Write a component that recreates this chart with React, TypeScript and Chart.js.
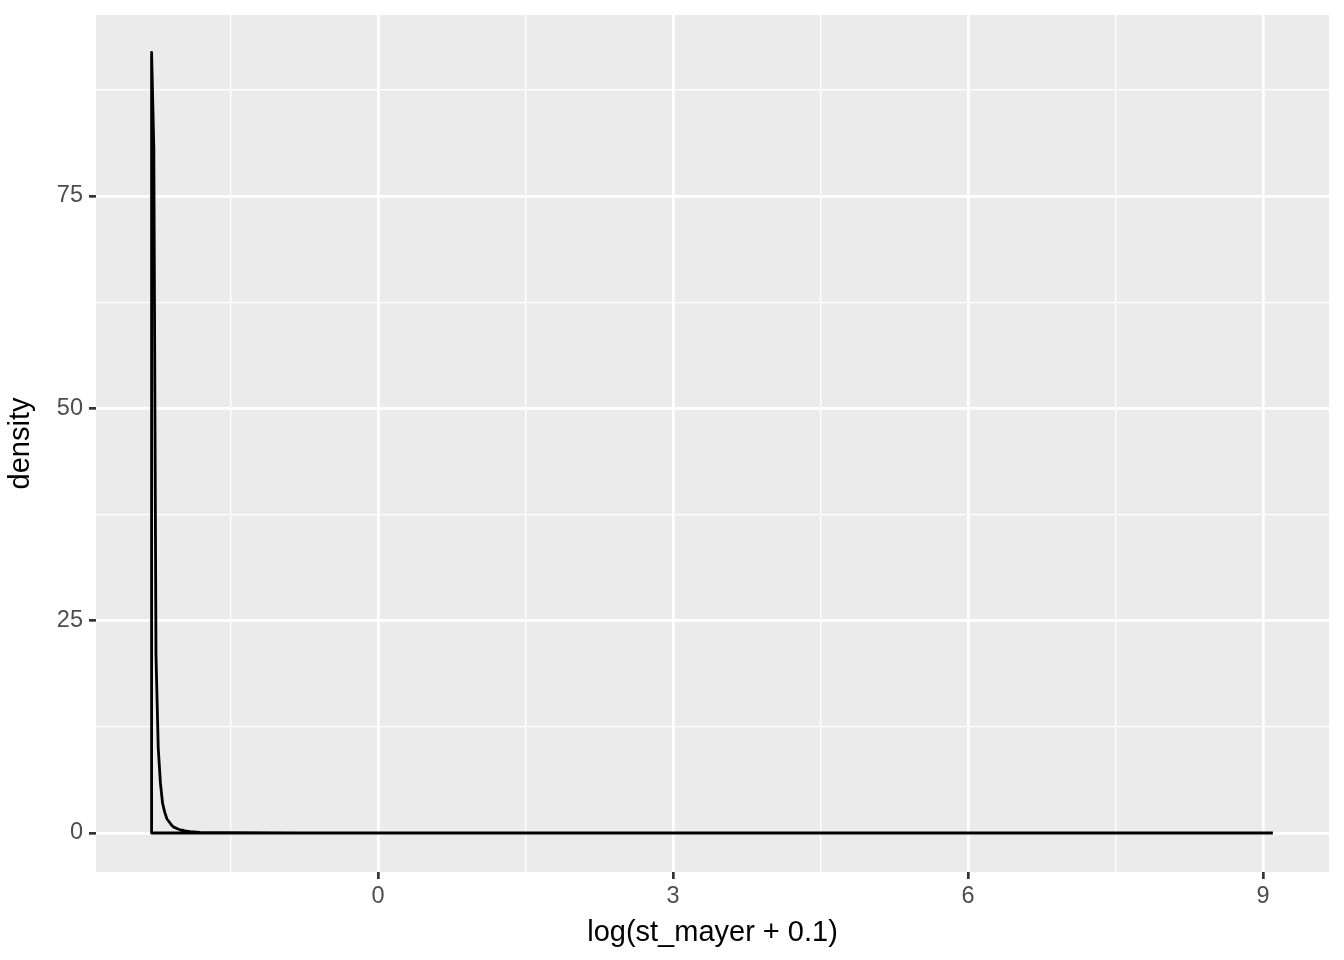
import React, { useEffect, useRef } from "react";
import { Chart, registerables } from "chart.js";

Chart.register(...registerables);

// Density curve (x in log(st_mayer + 0.1), y = density)
const densityX = [
  -2.3026, -2.280, -2.258, -2.235, -2.213, -2.191, -2.168, -2.146, -2.123, -2.101,
  -2.079, -2.056, -2.034, -2.012, -1.989, -1.967, -1.91, -1.81, -1.5, -0.8,
  0.5, 2.0, 4.0, 6.0, 8.0, 8.85,
];
const densityY = [
  91.9, 80.7, 21.0, 10.0, 5.9, 3.5, 2.4, 1.65, 1.3, 0.95,
  0.7, 0.6, 0.47, 0.38, 0.35, 0.24, 0.15, 0.08, 0.04, 0.02,
  0.015, 0.012, 0.01, 0.008, 0.005, 0.0,
];
const dataMaxX = 9.1;

const xMajorTicks = [0, 3, 6, 9];
const xMinorTicks = [-1.5, 1.5, 4.5, 7.5];
const yMajorTicks = [0, 25, 50, 75];
const yMinorTicks = [12.5, 37.5, 62.5, 87.5];

const xLimits = [-2.868, 9.671];
const yLimits = [-4.59, 96.31];

const xTitle = "log(st_mayer + 0.1)";
const yTitle = "density";

const FONT = "'Liberation Sans', Arial, Helvetica, sans-serif";

export default function App() {
  const ref = useRef<HTMLCanvasElement | null>(null);

  useEffect(() => {
    if (!ref.current) return;
    const x0 = densityX[0];
    const polygon = [
      { x: dataMaxX, y: 0 },
      { x: x0, y: 0 },
      ...densityX.map((x, i) => ({ x, y: densityY[i] })),
    ];

    const isMajor = (v: number, majors: number[]) => majors.some((m) => Math.abs(m - v) < 1e-9);

    const panelBg = {
      id: "panelBg",
      beforeDraw(chart: any) {
        const { ctx, chartArea } = chart;
        ctx.save();
        ctx.fillStyle = "#EBEBEB";
        ctx.fillRect(chartArea.left, chartArea.top, chartArea.right - chartArea.left, chartArea.bottom - chartArea.top);
        ctx.restore();
      },
    };

    const chart = new Chart(ref.current, {
      type: "line",
      data: {
        datasets: [
          {
            data: polygon,
            borderColor: "#000000",
            borderWidth: 2.8,
            pointRadius: 0,
            fill: false,
            tension: 0,
            borderJoinStyle: "round",
          } as any,
        ],
      },
      plugins: [panelBg],
      options: {
        responsive: false,
        animation: false,
        layout: { padding: { top: 15, right: 15, left: 0, bottom: 0 } },
        plugins: { legend: { display: false }, tooltip: { enabled: false } },
        scales: {
          x: {
            type: "linear",
            min: xLimits[0],
            max: xLimits[1],
            afterBuildTicks: (scale: any) => {
              scale.ticks = [...xMinorTicks, ...xMajorTicks].sort((a, b) => a - b).map((v) => ({ value: v }));
            },
            afterFit: (scale: any) => {
              scale.height = 88;
              scale.paddingLeft = 0;
              scale.paddingRight = 0;
            },
            border: { display: false },
            grid: {
              color: "#FFFFFF",
              lineWidth: (c: any) => (isMajor(c.tick?.value, xMajorTicks) ? 2.7 : 1.3),
              tickColor: (c: any) => (isMajor(c.tick?.value, xMajorTicks) ? "#333333" : "rgba(0,0,0,0)"),
              tickWidth: 2.7,
              tickLength: 7,
            },
            ticks: {
              autoSkip: false,
              maxRotation: 0,
              padding: 3,
              color: "#4D4D4D",
              font: { family: FONT, size: 23.5 },
              callback: (v: any) => (isMajor(Number(v), xMajorTicks) ? String(v) : ""),
            },
            title: {
              display: true,
              text: xTitle,
              color: "#000000",
              font: { family: FONT, size: 29 },
              padding: { top: 0, bottom: 10 },
            },
          },
          y: {
            type: "linear",
            min: yLimits[0],
            max: yLimits[1],
            afterBuildTicks: (scale: any) => {
              scale.ticks = [...yMinorTicks, ...yMajorTicks].sort((a, b) => a - b).map((v) => ({ value: v }));
            },
            afterFit: (scale: any) => {
              scale.width = 96;
              scale.paddingTop = 0;
              scale.paddingBottom = 0;
            },
            border: { display: false },
            grid: {
              color: "#FFFFFF",
              lineWidth: (c: any) => (isMajor(c.tick?.value, yMajorTicks) ? 2.7 : 1.3),
              tickColor: (c: any) => (isMajor(c.tick?.value, yMajorTicks) ? "#333333" : "rgba(0,0,0,0)"),
              tickWidth: 2.7,
              tickLength: 7,
            },
            ticks: {
              autoSkip: false,
              padding: 6,
              color: "#4D4D4D",
              font: { family: FONT, size: 23.5 },
              callback: (v: any) => (isMajor(Number(v), yMajorTicks) ? String(v) : ""),
            },
            title: {
              display: true,
              text: yTitle,
              color: "#000000",
              font: { family: FONT, size: 29 },
              padding: { top: 4, bottom: 0 },
            },
          },
        },
      },
    });
    return () => chart.destroy();
  }, []);

  return (
    <div style={{ position: "fixed", left: 0, top: 0, width: 1344, height: 960, background: "#FFFFFF" }}>
      <canvas ref={ref} width={1344} height={960} style={{ display: "block", width: 1344, height: 960 }} />
    </div>
  );
}
